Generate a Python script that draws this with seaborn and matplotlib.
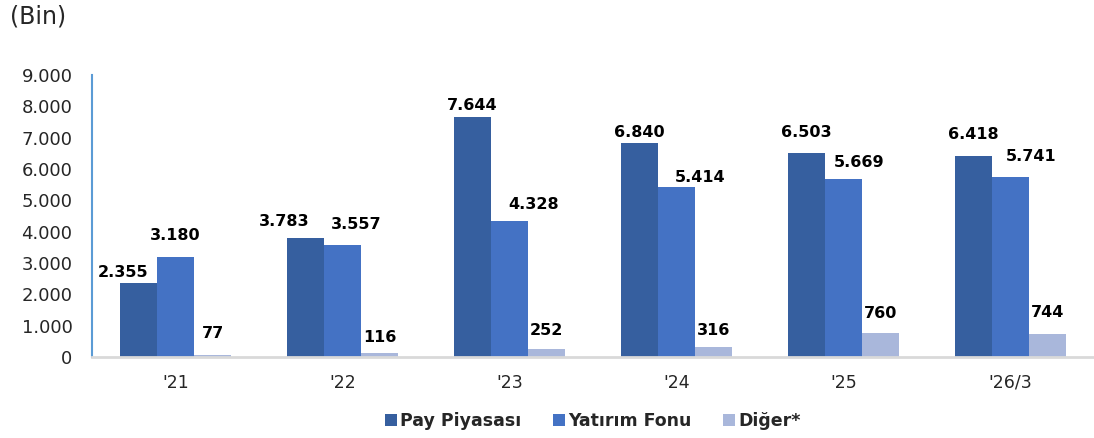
import matplotlib.pyplot as plt
import seaborn as sns
import pandas as pd

# Chart data (Bin)
years = ["'21", "'22", "'23", "'24", "'25", "'26/3"]
pay_piyasasi = [2355, 3783, 7644, 6840, 6503, 6418]
yatirim_fonu = [3180, 3557, 4328, 5414, 5669, 5741]
diger = [77, 116, 252, 316, 760, 744]
series_names = ['Pay Piyasası', 'Yatırım Fonu', 'Diğer*']
y_ticks = [0, 1000, 2000, 3000, 4000, 5000, 6000, 7000, 8000, 9000]

colors = ['#365F9F', '#4472C4', '#A9B7DB']

# label offsets in points (dx, dy), as placed by hand in the original
label_dx = [
    [-11, -15, 0, 0, 0, 0],
    [0, 9.5, 17, 17, 11, 15],
    [0, 0, 0, 0, 0, 0],
]
label_dy = [
    [2, 6.5, 3.5, 2, 9.5, 10],
    [10, 9.5, 7, 1.5, 7, 9.5],
    [9.5, 6, 8, 6.5, 8.5, 9.5],
]


def fmt_tr(v):
    """Thousands separator as dot (Turkish style)"""
    return f'{int(round(v)):,}'.replace(',', '.')


df = pd.DataFrame({
    'year': years * 3,
    'series': [series_names[0]] * 6 + [series_names[1]] * 6 + [series_names[2]] * 6,
    'value': pay_piyasasi + yatirim_fonu + diger,
})

sns.set_theme(style='white')
plt.rcParams['font.family'] = ['DejaVu Sans']

fig = plt.figure(figsize=(10.94, 4.38), dpi=100)
ax = fig.add_axes([0.0841, 0.185, 0.916, 0.644])

sns.barplot(data=df, x='year', y='value', hue='series', order=years,
            hue_order=series_names, palette=colors, width=0.665, gap=0,
            saturation=1, linewidth=0, ax=ax, legend=True)

ax.set_xlim(-0.5, 5.5)
ax.set_ylim(0, 9000)
ax.set_yticks(y_ticks)
ax.set_yticklabels([fmt_tr(t) for t in y_ticks], fontsize=13, color='#262626')
ax.tick_params(axis='x', labelsize=12.5, colors='#262626', length=0, pad=12)
ax.tick_params(axis='y', length=0, pad=14)
ax.set_xlabel('')
ax.set_ylabel('')

for side in ['top', 'right']:
    ax.spines[side].set_visible(False)
ax.spines['left'].set_color('#5B9BD5')
ax.spines['left'].set_linewidth(1.5)
ax.spines['bottom'].set_color('#D9D9D9')
ax.spines['bottom'].set_linewidth(2)

# value labels above bars
for container, dxs, dys in zip(ax.containers, label_dx, label_dy):
    labels = ax.bar_label(container, labels=[fmt_tr(b.get_height()) for b in container],
                          padding=0, fontsize=11.5, fontweight='bold', color='black')
    for lab, dx, dy in zip(labels, dxs, dys):
        lab.xyann = (dx, dy)

handles, lbls = ax.get_legend_handles_labels()
leg = ax.legend(handles, lbls, loc='upper center', bbox_to_anchor=(0.5, -0.14),
                ncol=3, frameon=False, handlelength=0.7, handleheight=0.7,
                handletextpad=0.2, columnspacing=1.8,
                prop={'weight': 'bold', 'size': 12.5})

fig.text(0.009, 0.962, '(Bin)', fontsize=17, color='#262626', va='center', ha='left')

plt.savefig('out.png', dpi=100)
plt.close()
